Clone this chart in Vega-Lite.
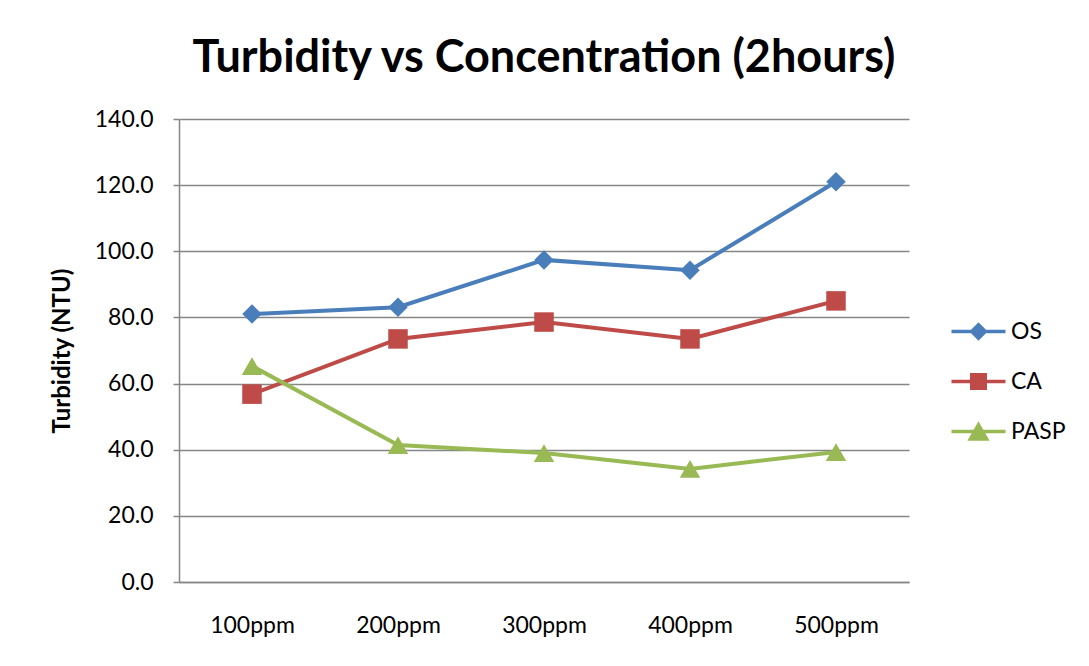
{
  "$schema": "https://vega.github.io/schema/vega-lite/v6.json",
  "width": 730,
  "height": 463,
  "autosize": {"type": "none"},
  "padding": {"left": 179, "top": 119, "right": 180, "bottom": 84},
  "background": "white",
  "title": {
    "text": "Turbidity vs Concentration (2hours)",
    "font": "Lato",
    "fontSize": 45,
    "fontWeight": "bold",
    "color": "black",
    "anchor": "middle",
    "offset": 27
  },
  "config": {"view": {"stroke": null}},
  "data": {
    "values": [
      {"conc": "100ppm", "series": "OS", "turbidity": 81.0},
      {"conc": "200ppm", "series": "OS", "turbidity": 83.1},
      {"conc": "300ppm", "series": "OS", "turbidity": 97.4},
      {"conc": "400ppm", "series": "OS", "turbidity": 94.3},
      {"conc": "500ppm", "series": "OS", "turbidity": 121.0},
      {"conc": "100ppm", "series": "CA", "turbidity": 56.8},
      {"conc": "200ppm", "series": "CA", "turbidity": 73.5},
      {"conc": "300ppm", "series": "CA", "turbidity": 78.6},
      {"conc": "400ppm", "series": "CA", "turbidity": 73.5},
      {"conc": "500ppm", "series": "CA", "turbidity": 85.0},
      {"conc": "100ppm", "series": "PASP", "turbidity": 65.3},
      {"conc": "200ppm", "series": "PASP", "turbidity": 41.4},
      {"conc": "300ppm", "series": "PASP", "turbidity": 39.0},
      {"conc": "400ppm", "series": "PASP", "turbidity": 34.2},
      {"conc": "500ppm", "series": "PASP", "turbidity": 39.3}
    ]
  },
  "encoding": {
    "x": {
      "field": "conc",
      "type": "ordinal",
      "sort": ["100ppm", "200ppm", "300ppm", "400ppm", "500ppm"],
      "scale": {"type": "point", "padding": 0.5},
      "axis": {
        "title": null,
        "ticks": false,
        "labelAngle": 0,
        "labelFont": "Lato",
        "labelFontSize": 23,
        "labelColor": "black",
        "labelPadding": 32,
        "domainColor": "#868686",
        "domainWidth": 1.5,
        "grid": false
      }
    },
    "y": {
      "field": "turbidity",
      "type": "quantitative",
      "scale": {"domain": [0, 140], "nice": false},
      "axis": {
        "title": "Turbidity (NTU)",
        "titleFont": "Lato",
        "titleFontSize": 24,
        "titleFontWeight": "bold",
        "titleColor": "black",
        "titlePadding": 20,
        "values": [0, 20, 40, 60, 80, 100, 120, 140],
        "format": ".1f",
        "labelFont": "Lato",
        "labelFontSize": 23,
        "labelColor": "black",
        "labelPadding": 20,
        "tickSize": 6,
        "tickColor": "#868686",
        "tickWidth": 1.5,
        "domainColor": "#868686",
        "domainWidth": 1.5,
        "gridColor": "#868686",
        "gridWidth": 1.5
      }
    },
    "color": {
      "field": "series",
      "type": "nominal",
      "scale": {"domain": ["OS", "CA", "PASP"], "range": ["#4A7EBB", "#BE4B48", "#98B954"]},
      "legend": {
        "orient": "none",
        "legendX": 784,
        "legendY": 197,
        "title": null,
        "padding": 0,
        "labelFont": "Lato",
        "labelFontSize": 23,
        "labelColor": "black",
        "labelOffset": 17,
        "rowPadding": 20,
        "symbolSize": 729,
        "symbolStrokeWidth": 3.5,
        "encode": {
          "symbols": {
            "update": {
              "shape": {"signal": "datum.value === 'OS' ? 'M-2,0H2M0,-0.5L0.5,0L0,0.5L-0.5,0Z' : datum.value === 'CA' ? 'M-2,0H2M-0.5,-0.5H0.5V0.5H-0.5Z' : 'M-2,0H2M0,-0.5L0.6,0.55H-0.6Z'"},
              "fill": {"scale": "color", "field": "value"},
              "stroke": {"scale": "color", "field": "value"},
              "strokeWidth": {"value": 3.5},
              "opacity": {"value": 1}
            }
          }
        }
      }
    }
  },
  "layer": [
    {"mark": {"type": "line", "strokeWidth": 4}},
    {
      "transform": [{"filter": "datum.series === 'OS'"}],
      "mark": {"type": "point", "shape": "diamond", "filled": true, "opacity": 1, "size": 380}
    },
    {
      "transform": [{"filter": "datum.series === 'CA'"}],
      "mark": {"type": "point", "shape": "square", "filled": true, "opacity": 1, "size": 380}
    },
    {
      "transform": [{"filter": "datum.series === 'PASP'"}],
      "mark": {"type": "point", "shape": "triangle-up", "filled": true, "opacity": 1, "size": 420}
    }
  ]
}
